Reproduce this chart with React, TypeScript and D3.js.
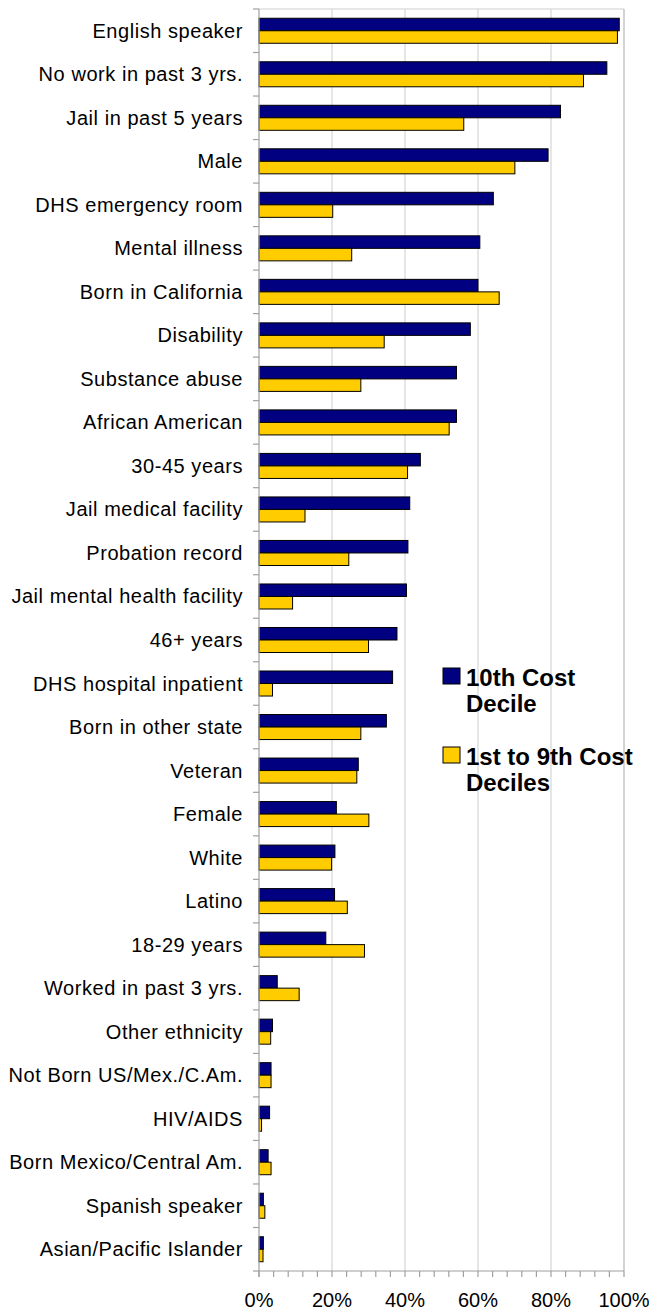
import React from "react";
import * as d3 from "d3";

const categories = [
  "English speaker",
  "No work in past 3 yrs.",
  "Jail in past 5 years",
  "Male",
  "DHS emergency room",
  "Mental illness",
  "Born in California",
  "Disability",
  "Substance abuse",
  "African American",
  "30-45 years",
  "Jail medical facility",
  "Probation record",
  "Jail mental health facility",
  "46+ years",
  "DHS hospital inpatient",
  "Born in other state",
  "Veteran",
  "Female",
  "White",
  "Latino",
  "18-29 years",
  "Worked in past 3 yrs.",
  "Other ethnicity",
  "Not Born US/Mex./C.Am.",
  "HIV/AIDS",
  "Born Mexico/Central Am.",
  "Spanish speaker",
  "Asian/Pacific Islander",
];

const decile10 = [
  98.7, 95.3, 82.6, 79.2, 64.2, 60.5, 60.0, 57.9, 54.1, 54.1, 44.2, 41.3, 40.8, 40.4, 37.8,
  36.6, 34.9, 27.2, 21.2, 20.8, 20.7, 18.3, 5.0, 3.7, 3.3, 2.9, 2.5, 1.2, 1.2,
];

const deciles1to9 = [
  98.2, 88.9, 56.1, 70.1, 20.2, 25.4, 65.8, 34.3, 27.9, 52.1, 40.7, 12.6, 24.6, 9.2, 30.0,
  3.7, 27.9, 26.8, 30.1, 19.9, 24.2, 28.9, 11.0, 3.2, 3.3, 0.7, 3.3, 1.6, 1.1,
];

const seriesNames = ["10th Cost Decile", "1st to 9th Cost Deciles"];
const seriesColors = ["#000080", "#FFCC00"];
const legendLines = [
  ["10th Cost", "Decile"],
  ["1st to 9th Cost", "Deciles"],
];

const majorTicks = [0, 20, 40, 60, 80, 100];
const minorTicks = d3.range(0, 101, 4);

const W = 652;
const H = 1310;
const left = 259;
const right = 624;
const top = 9;
const bottom = 1271;

export default function App() {
  const x = d3.scaleLinear().domain([0, 100]).range([left, right]);
  const y = d3
    .scaleBand<string>()
    .domain(categories)
    .range([top, bottom])
    .paddingInner(0.425)
    .paddingOuter(0.2125);
  const y1 = d3
    .scaleBand<string>()
    .domain(seriesNames)
    .range([0, y.bandwidth()]);
  const series = [decile10, deciles1to9];
  const step = y.step();
  const boundaries = d3.range(categories.length + 1).map((i) => top + i * step);
  const font = "'Liberation Sans', Arial, Helvetica, sans-serif";

  return (
    <svg
      width={W}
      height={H}
      style={{ position: "absolute", left: 0, top: 0 }}
      fontFamily={font}
    >
      <rect x={0} y={0} width={W} height={H} fill="#fff" />
      {majorTicks.slice(1, -1).map((t) => (
        <line
          key={"g" + t}
          x1={x(t)}
          x2={x(t)}
          y1={top}
          y2={bottom}
          stroke="#d9d9d9"
          strokeWidth={1.3}
        />
      ))}
      <line x1={left} x2={right} y1={top} y2={top} stroke="#d0d0d0" strokeWidth={1.2} />
      <line x1={right} x2={right} y1={top} y2={bottom} stroke="#c4c4c4" strokeWidth={1.5} />
      {categories.map((c, i) => (
        <g key={c}>
          {series.map((s, j) => (
            <rect
              key={j}
              x={x(0)}
              y={(y(c) as number) + (y1(seriesNames[j]) as number)}
              width={x(s[i]) - x(0)}
              height={y1.bandwidth()}
              fill={seriesColors[j]}
              stroke="#000"
              strokeWidth={1}
            />
          ))}
        </g>
      ))}
      <line x1={left} x2={left} y1={top} y2={bottom + 6} stroke="#a0a0a0" strokeWidth={1.2} />
      {boundaries.map((b, i) => (
        <line key={"yt" + i} x1={left - 6} x2={left} y1={b} y2={b} stroke="#a0a0a0" strokeWidth={1.2} />
      ))}
      {categories.map((c) => (
        <text
          key={"l" + c}
          x={243}
          y={(y(c) as number) + y.bandwidth() / 2}
          dy="0.35em"
          textAnchor="end"
          fontSize={20}
          letterSpacing={0.55}
          fill="#000"
        >
          {c}
        </text>
      ))}
      <line x1={left} x2={right} y1={bottom} y2={bottom} stroke="#a0a0a0" strokeWidth={1.2} />
      {minorTicks.map((t) => (
        <line key={"mt" + t} x1={x(t)} x2={x(t)} y1={bottom} y2={bottom + 6} stroke="#a0a0a0" strokeWidth={1.2} />
      ))}
      {majorTicks.map((t) => (
        <text key={"xl" + t} x={x(t)} y={1307} textAnchor="middle" fontSize={20} fill="#000">
          {t + "%"}
        </text>
      ))}
      {seriesNames.map((n, j) => {
        const ly = j === 0 ? 668 : 747;
        return (
          <g key={"lg" + n}>
            <rect x={443} y={ly} width={17} height={16} fill={seriesColors[j]} stroke="#000" strokeWidth={1} />
            {legendLines[j].map((line, k) => (
              <text
                key={k}
                x={466}
                y={ly + 18 + k * 25.7}
                fontSize={24}
                fontWeight="bold"
                fill="#000"
              >
                {line}
              </text>
            ))}
          </g>
        );
      })}
    </svg>
  );
}
